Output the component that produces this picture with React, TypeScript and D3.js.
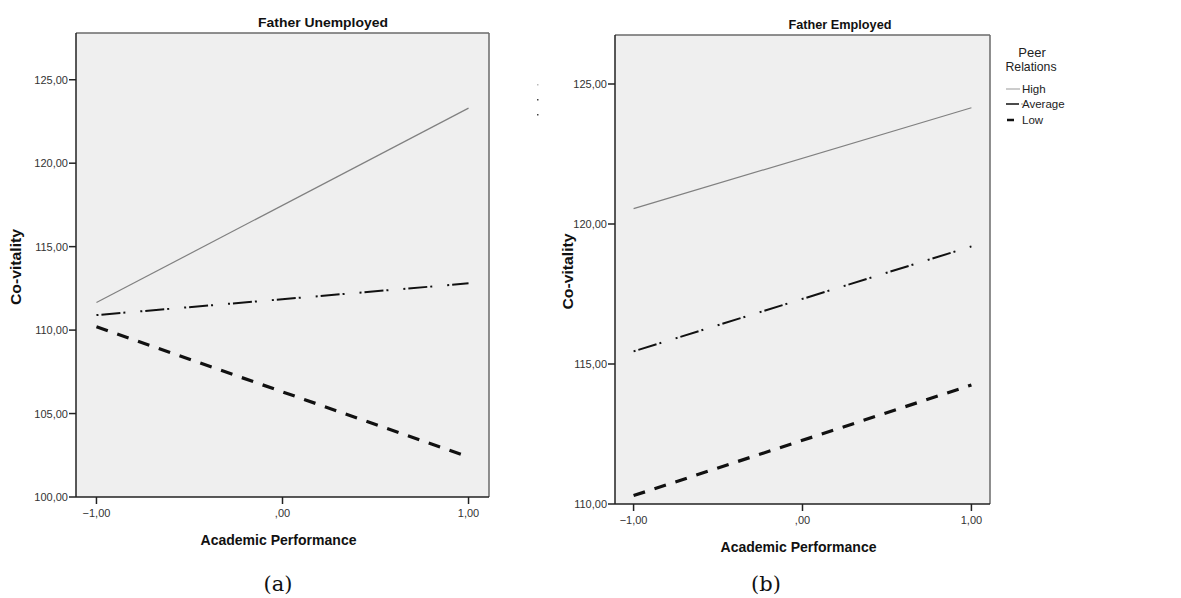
import React from "react";
import * as d3 from "d3";

// ---- Data ----
const xValues = [-1, 1];
const xTicks = [-1, 0, 1];
const seriesNames = ["High", "Average", "Low"];
const unemployedHigh = [111.65, 123.3];
const unemployedAverage = [110.9, 112.8];
const unemployedLow = [110.2, 102.4];
const employedHigh = [120.55, 124.15];
const employedAverage = [115.45, 119.2];
const employedLow = [110.3, 114.25];
const unemployedYTicks = [100, 105, 110, 115, 120, 125];
const employedYTicks = [110, 115, 120, 125];
const panelTitles = ["Father Unemployed", "Father Employed"];
const panelLabels = ["(a)", "(b)"];
const xAxisTitle = "Academic Performance";
const yAxisTitle = "Co-vitality";
const legendTitle = ["Peer", "Relations"];

const fmt = (v: number) =>
  d3.format(".2f")(v).replace(".", ",").replace(/^(-?)0,/, "$1,");

const seriesStyle: Record<string, { stroke: string; width: number; dash?: string }> = {
  High: { stroke: "#808080", width: 1.2 },
  Average: { stroke: "#111", width: 2, dash: "2,3,19,3,2,15" },
  Low: { stroke: "#111", width: 3.2, dash: "12,10" },
};

const SANS = "'Liberation Sans', Arial, sans-serif";

type PanelProps = {
  box: { x0: number; x1: number; y0: number; y1: number };
  yDomain: [number, number];
  yTicks: number[];
  series: number[][];
  title: string;
  label: string;
  titleX: number;
  labelX: number;
  yTitleX: number;
};

function Panel({ box, yDomain, yTicks, series, title, label, titleX, labelX, yTitleX }: PanelProps) {
  const x = d3.scaleLinear().domain([-1.11, 1.11]).range([box.x0, box.x1]);
  const y = d3.scaleLinear().domain(yDomain).range([box.y1, box.y0]);
  const line = d3
    .line<[number, number]>()
    .x((d) => x(d[0]))
    .y((d) => y(d[1]));
  const cx = (box.x0 + box.x1) / 2;
  return (
    <g>
      <rect x={box.x0} y={box.y0} width={box.x1 - box.x0} height={box.y1 - box.y0} fill="#efefef" />
      <defs>
        <clipPath id={`clip-${title.replace(/\s/g, "")}`}>
          <rect x={box.x0} y={box.y0} width={box.x1 - box.x0} height={box.y1 - box.y0} />
        </clipPath>
      </defs>
      <g clipPath={`url(#clip-${title.replace(/\s/g, "")})`}>
        {seriesNames.map((name, i) => {
          const st = seriesStyle[name];
          const pts = xValues.map((xv, j) => [xv, series[i][j]] as [number, number]);
          return (
            <path
              key={name}
              d={line(pts) || ""}
              fill="none"
              stroke={st.stroke}
              strokeWidth={st.width}
              strokeDasharray={st.dash}
            />
          );
        })}
      </g>
      {/* frame */}
      <line x1={box.x0} x2={box.x1} y1={box.y0} y2={box.y0} stroke="#6a6a6a" strokeWidth={1.5} />
      <line x1={box.x1} x2={box.x1} y1={box.y0} y2={box.y1} stroke="#6a6a6a" strokeWidth={1.5} />
      <line x1={box.x0} x2={box.x0} y1={box.y0} y2={box.y1} stroke="#222" strokeWidth={1.5} />
      <line x1={box.x0} x2={box.x1} y1={box.y1} y2={box.y1} stroke="#222" strokeWidth={1.5} />
      {/* y ticks */}
      {yTicks.map((t) => (
        <g key={t}>
          <line x1={box.x0 - 7} x2={box.x0} y1={y(t)} y2={y(t)} stroke="#222" strokeWidth={1.5} />
          <text x={box.x0 - 8} y={y(t) + 4} textAnchor="end" fontSize={11} fontFamily={SANS} fill="#333">
            {fmt(t)}
          </text>
        </g>
      ))}
      {/* x ticks */}
      {xTicks.map((t) => (
        <g key={t}>
          <line x1={x(t)} x2={x(t)} y1={box.y1} y2={box.y1 + 7} stroke="#222" strokeWidth={1.5} />
          <text x={x(t)} y={box.y1 + 20} textAnchor="middle" fontSize={11} fontFamily={SANS} fill="#333">
            {fmt(t)}
          </text>
        </g>
      ))}
      <text
        x={titleX}
        y={box.y0 - 6}
        textAnchor="middle"
        fontSize={13.5}
        fontWeight="bold"
        fontFamily={SANS}
        fill="#111"
        textLength={title.length > 16 ? 130 : 103}
        lengthAdjust="spacingAndGlyphs"
      >
        {title}
      </text>
      <text
        x={cx - 4}
        y={box.y1 + 48}
        textAnchor="middle"
        fontSize={14.5}
        fontWeight="bold"
        fontFamily={SANS}
        fill="#111"
        textLength={156}
        lengthAdjust="spacingAndGlyphs"
      >
        {xAxisTitle}
      </text>
      <text
        transform={`translate(${yTitleX},${(box.y0 + box.y1) / 2 + 2}) rotate(-90)`}
        textAnchor="middle"
        fontSize={14}
        fontWeight="bold"
        fontFamily={SANS}
        fill="#111"
        textLength={76}
        lengthAdjust="spacingAndGlyphs"
      >
        {yAxisTitle}
      </text>
      <text x={labelX} y={591} textAnchor="middle" fontSize={21} fontFamily="'DejaVu Serif', 'Liberation Serif', serif" fill="#111">
        {label}
      </text>
    </g>
  );
}

export default function App() {
  const leftBox = { x0: 76, x1: 489, y0: 33, y1: 497 };
  const rightBox = { x0: 615, x1: 990, y0: 35, y1: 504 };
  const legendX = 1006;
  const legendY = [89, 104, 120];
  return (
    <svg width={1181} height={598} style={{ position: "absolute", left: 0, top: 0, background: "#fff" }}>
      <Panel
        box={leftBox}
        yDomain={[100, 127.8]}
        yTicks={unemployedYTicks}
        series={[unemployedHigh, unemployedAverage, unemployedLow]}
        title={panelTitles[0]}
        label={panelLabels[0]}
        titleX={323}
        labelX={278}
        yTitleX={21}
      />
      <Panel
        box={rightBox}
        yDomain={[110, 126.75]}
        yTicks={employedYTicks}
        series={[employedHigh, employedAverage, employedLow]}
        title={panelTitles[1]}
        label={panelLabels[1]}
        titleX={840}
        labelX={766}
        yTitleX={573}
      />
      {/* clipped legend remnants of left panel */}
      {seriesNames.map((name, i) => (
        <rect key={name} x={537} y={84 + i * 15} width={1.5} height={1.5} fill={i === 0 ? "#bbb" : "#444"} />
      ))}
      {/* legend */}
      <text x={1032} y={57} textAnchor="middle" fontSize={13} fontFamily={SANS} fill="#222">
        {legendTitle[0]}
      </text>
      <text x={1031} y={71} textAnchor="middle" fontSize={13} fontFamily={SANS} fill="#222" textLength={51} lengthAdjust="spacingAndGlyphs">
        {legendTitle[1]}
      </text>
      {seriesNames.map((name, i) => {
        const st = seriesStyle[name];
        return (
          <g key={name}>
            {name === "High" && (
              <line x1={legendX} x2={legendX + 14} y1={legendY[i]} y2={legendY[i]} stroke="#aaa" strokeWidth={1.2} />
            )}
            {name === "Average" && (
              <g>
                <line x1={legendX} x2={legendX + 13} y1={legendY[i]} y2={legendY[i]} stroke="#111" strokeWidth={1.5} />
                <rect x={legendX + 15.5} y={legendY[i] - 0.5} width={1} height={1} fill="#333" />
              </g>
            )}
            {name === "Low" && (
              <line x1={legendX + 1} x2={legendX + 8} y1={legendY[i]} y2={legendY[i]} stroke={st.stroke} strokeWidth={2.5} />
            )}
            <text x={legendX + 16} y={legendY[i] + 4} fontSize={11.5} fontFamily={SANS} fill="#222">
              {name}
            </text>
          </g>
        );
      })}
    </svg>
  );
}
